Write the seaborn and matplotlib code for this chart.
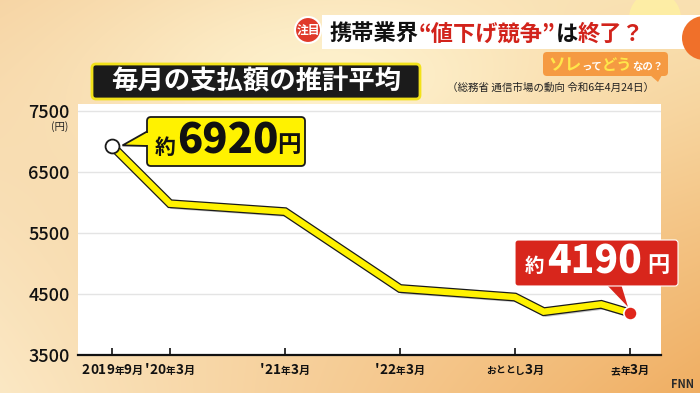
import matplotlib
matplotlib.use("Agg")
import matplotlib.pyplot as plt
import matplotlib.patheffects as pe
from matplotlib.colors import to_rgb
from matplotlib.patches import FancyBboxPatch, Polygon, Circle, Rectangle
import numpy as np
import pandas as pd
import seaborn as sns

# データ（月は2019年9月からの経過月数）
months = [0, 6, 18, 30, 42, 45, 51, 54]
yen = [6920, 5980, 5850, 4590, 4450, 4210, 4330, 4190]
tick_months = [0, 6, 18, 30, 42, 54]
tick_labels = ["2019年9月", "'20年3月", "'21年3月", "'22年3月", "おととし3月", "去年3月"]
y_ticks = [3500, 4500, 5500, 6500, 7500]
first_label = ["約", "6920", "円"]
last_label = ["約", "4190", "円"]
title = "毎月の支払額の推計平均"
source = "（総務省 通信市場の動向 令和6年4月24日）"

sns.set_theme(style="white")
plt.rcParams['font.family'] = ['Noto Sans CJK JP', 'DejaVu Sans']

W, H = 700, 393
fig = plt.figure(figsize=(7, 3.93), dpi=100)

# 背景グラデーション
bg = fig.add_axes([0, 0, 1, 1], zorder=-10)
bg.axis('off')
yy, xx = np.mgrid[0:H, 0:W]
u = (xx / W)[..., None]
v = (yy / H)[..., None]
tl, tr, bl, br = [np.array(to_rgb(c)) for c in ('#f6d3a2', '#f9e0b0', '#fbe8c4', '#f0ae62')]
img = (1 - u) * (1 - v) * tl + u * (1 - v) * tr + (1 - u) * v * bl + u * v * br
d = np.exp(-(((xx - 330) / 240) ** 2 + ((yy - 80) / 110) ** 2))[..., None] * 0.8
img = img * (1 - d) + np.array(to_rgb('#fff7d6')) * d
bg.imshow(np.clip(img, 0, 1), extent=[0, W, H, 0], aspect='auto')
bg.set_xlim(0, W)
bg.set_ylim(H, 0)

# メインのグラフ
ax = fig.add_axes([78 / W, 1 - 355 / H, (661 - 78) / W, (355 - 104) / H])
ax.set_facecolor('white')
df = pd.DataFrame({'month': months, 'yen': yen})
sns.lineplot(data=df, x='month', y='yen', ax=ax, color='#fff200', lw=4.6, zorder=5,
             solid_joinstyle='miter',
             path_effects=[pe.SimpleLineShadow(offset=(1.5, -1.5), alpha=0.25),
                           pe.Stroke(linewidth=6.4, foreground='#1a1a1a'), pe.Normal()])
ax.plot(months[0], yen[0], 'o', ms=10, mfc='white', mec='#1a1a1a', mew=1.3, zorder=7)
ax.plot(months[-1], yen[-1], 'o', ms=9.5, mfc='#e0261b', mec='white', mew=1.2, zorder=7)

ax.set_xlim(-3.6, 57.24)
ax.set_ylim(3500, 7615)
ax.set_yticks(y_ticks)
ax.set_xticks(tick_months, [""] * len(tick_months))
ax.yaxis.grid(True, color='#e4e4e4', lw=1)
ax.xaxis.grid(False)
ax.set_axisbelow(True)
for s in ['top', 'right', 'left']:
    ax.spines[s].set_visible(False)
ax.spines['bottom'].set_color('#111')
ax.spines['bottom'].set_linewidth(1.6)
ax.tick_params(axis='x', direction='in', length=5, width=1.2, color='#111', bottom=True)
ax.tick_params(axis='y', length=0, labelsize=13, pad=6)
for t in ax.get_yticklabels():
    t.set_fontweight('medium')
    t.set_color('#111')
ax.set_xlabel('')
ax.set_ylabel('')

# 重ね書き用（ピクセル座標）
ov = fig.add_axes([0, 0, 1, 1], zorder=10)
ov.axis('off')
ov.set_xlim(0, W)
ov.set_ylim(H, 0)
renderer = fig.canvas.get_renderer()


def to_px(x, y):
    p = ax.transData.transform((x, y))
    return ov.transData.inverted().transform(p)


def chain(x, y, pieces, center=False):
    texts = []
    total = 0
    for s, size, color in pieces:
        t = ov.text(x, y, s, fontsize=size, color=color, fontweight='bold',
                    ha='left', va='baseline', zorder=30)
        w = t.get_window_extent(renderer=renderer).width
        texts.append((t, w))
        total += w
    if center:
        x -= total / 2
    for t, w in texts:
        t.set_x(x)
        x += w


# 目盛りラベル（数字は大きく、年・月は小さく）
for m, lab in zip(tick_months, tick_labels):
    px, _ = to_px(m, 3500)
    pieces = []
    for ch in lab:
        if ch.isdigit() or ch == "'":
            size = 9.8
        elif ch == "月":
            size = 8
        else:
            size = 7
        pieces.append((ch, size, '#111'))
    chain(px, 374, pieces, center=True)

ov.text(60, 127, "(円)", fontsize=7.5, ha='center', va='center', color='#222')

# 約6920円 吹き出し
cx, cy = to_px(months[0], yen[0])
ov.add_patch(Polygon([(148, 131), (148, 146), (cx + 10, cy - 1)], closed=True,
                     fc='#fff200', ec='#1a1a1a', lw=1.3, zorder=19))
ov.add_patch(FancyBboxPatch((147, 117), 158, 49, boxstyle='round,pad=0,rounding_size=4',
                            fc='#fff200', ec='#1a1a1a', lw=1.3, zorder=20))
ov.add_patch(Rectangle((146, 132.5), 3.5, 12.5, fc='#fff200', ec='none', zorder=21))
ov.text(165, 147, first_label[0], fontsize=15, fontweight='bold', ha='center', va='center', color='#111', zorder=22)
ov.text(228, 142, first_label[1], fontsize=30, fontweight='black', ha='center', va='center', color='#111', zorder=22)
ov.text(289, 145, first_label[2], fontsize=17, fontweight='bold', ha='center', va='center', color='#111', zorder=22)

# 約4190円 吹き出し
ex, ey = to_px(months[-1], yen[-1])
ov.add_patch(Polygon([(606, 284), (621, 284), (ex - 2, ey - 6)], closed=True,
                     fc='#d8261c', ec='none', zorder=19))
ov.add_patch(FancyBboxPatch((515, 240), 163, 46, boxstyle='round,pad=0,rounding_size=3',
                            fc='#d8261c', ec='white', lw=0.8, zorder=20))
ov.text(534, 266, last_label[0], fontsize=14, fontweight='bold', ha='center', va='center', color='white', zorder=22)
ov.text(595, 262, last_label[1], fontsize=28, fontweight='black', ha='center', va='center', color='white', zorder=22)
ov.text(658, 265, last_label[2], fontsize=16, fontweight='bold', ha='center', va='center', color='white', zorder=22)

# 上部バナー
ov.add_patch(Circle((655, 18), 26, fc='#fff3a0', ec='none', alpha=0.7, zorder=2))
ov.add_patch(Rectangle((322, 15), 378, 34, fc='white', ec='none', zorder=3))
ov.add_patch(Circle((704, 38), 22, fc='#f0702a', ec='none', zorder=4))
ov.add_patch(Circle((308, 30), 13, fc='#e0392a', ec='white', lw=1.5, zorder=5))
ov.text(308, 30, "注目", fontsize=8.5, fontweight='bold', color='white', ha='center', va='center', zorder=6)
chain(330, 41, [("携帯業界", 16, '#111'), ("“値下げ競争”", 16, '#d2231b'),
                ("は", 16, '#111'), ("終了？", 16, '#d2231b')])

ov.add_patch(FancyBboxPatch((543, 52), 125, 24, boxstyle='round,pad=0,rounding_size=4',
                            fc='#f59a42', ec='none', zorder=5))
ov.add_patch(Polygon([(650, 75), (662, 75), (658, 82)], closed=True, fc='#f59a42', ec='none', zorder=5))
chain(548, 70, [("ソレ", 12, '#ffe64a'), ("って", 7.5, 'white'),
                ("どう", 11, '#ffe64a'), ("なの？", 7.5, 'white')])

# タイトル
ov.add_patch(FancyBboxPatch((92, 64), 328, 35, boxstyle='round,pad=0,rounding_size=4',
                            fc='#1b1b1b', ec='#f2e21a', lw=2, zorder=5))
ov.text(256, 82, title, fontsize=19, fontweight='bold', color='white', ha='center', va='center', zorder=6)
ov.text(447, 88, source, fontsize=7.6, color='#222', ha='left', va='center', zorder=6)

ov.text(683, 384, "FNN", fontsize=8, fontweight='bold', color='#2a2a2a', ha='center', va='center')

fig.savefig('out.png', dpi=100)
